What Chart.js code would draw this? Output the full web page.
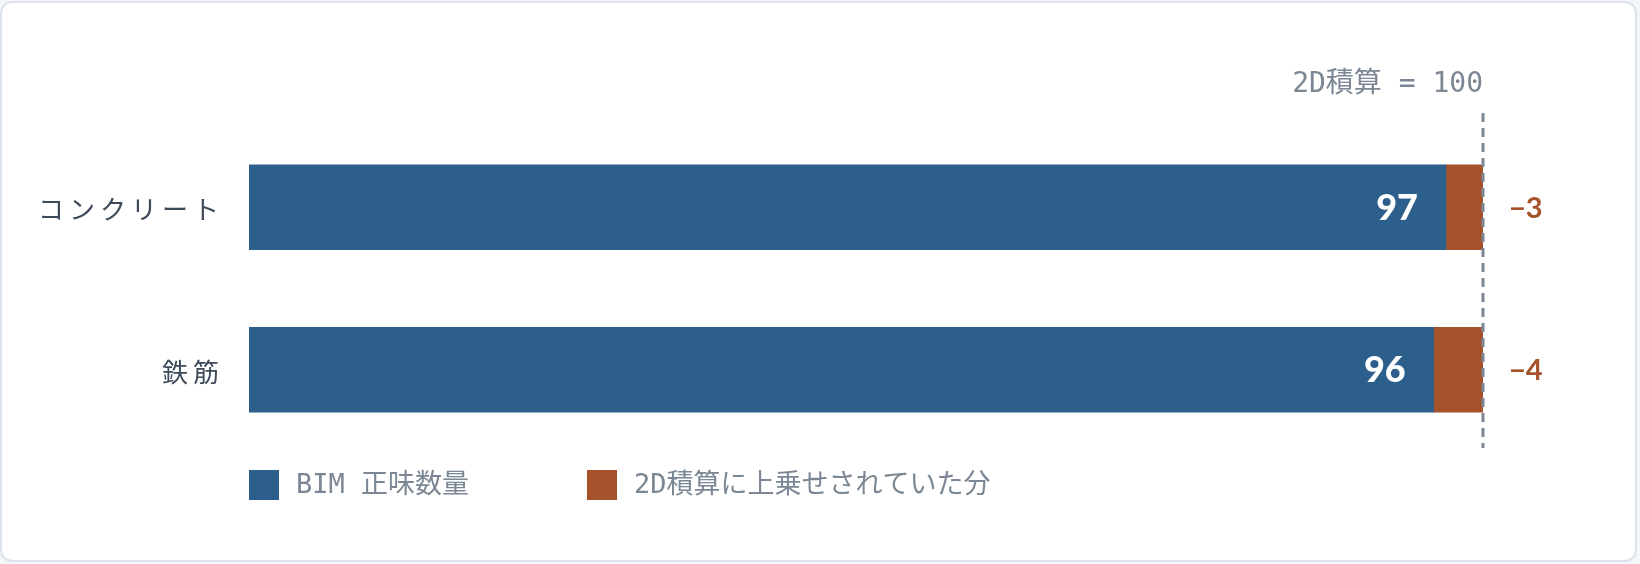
<!DOCTYPE html>
<html lang="ja">
<head>
<meta charset="utf-8">
<title>BIM 正味数量</title>
<script src="https://cdn.jsdelivr.net/npm/chart.js@4.4.1/dist/chart.umd.min.js"></script>
<style>
  html, body { margin: 0; padding: 0; background: #f4f6f9; }
  .card {
    position: absolute; left: 0; top: 1px;
    width: 1637px; height: 561px; box-sizing: border-box;
    border: 2px solid #dde3ea; border-radius: 12px; background: #fff;
  }
  #graphic { position: absolute; left: 0; top: 0; }
</style>
</head>
<body>
<div class="card"></div>
<canvas id="graphic" width="1640" height="564"></canvas>
<script>
const categories = ["コンクリート", "鉄筋"];
const bimValues = [97, 96];
const extraValues = [3, 4];
const seriesNames = ["BIM 正味数量", "2D積算に上乗せされていた分"];
const baseline = 100;
const baselineLabel = "2D積算 = 100";

const BLUE = "#2c5f8c";
const RUST = "#a6532b";
const GRAY = "#7b8794";
const MONO = "'DejaVu Sans Mono', 'Noto Sans CJK JP', monospace";

// labels, baseline and legend drawn on top of the bars
const overlay = {
  id: "overlay",
  afterDatasetsDraw(chart) {
    const { ctx, chartArea } = chart;
    const x = chart.scales.x;
    const y = chart.scales.y;
    const xBase = x.getPixelForValue(baseline);

    ctx.save();

    // category labels
    ctx.font = "26px 'Noto Sans CJK JP', 'Noto Sans', sans-serif";
    ctx.fillStyle = "#3d4a5a";
    ctx.textAlign = "right";
    ctx.textBaseline = "middle";
    ctx.letterSpacing = "5px";
    categories.forEach((c, i) => {
      ctx.fillText(c, chartArea.left - 25, y.getPixelForValue(i) + 2);
    });
    ctx.letterSpacing = "0px";

    // value in blue bar
    ctx.font = "900 36px Lato, sans-serif";
    ctx.fillStyle = "#fff";
    bimValues.forEach((v, i) => {
      ctx.fillText(String(v), x.getPixelForValue(v) - 28, y.getPixelForValue(i) + 1);
    });

    // extra amount next to baseline
    ctx.font = "bold 29px Lato, sans-serif";
    ctx.fillStyle = RUST;
    ctx.textAlign = "left";
    extraValues.forEach((v, i) => {
      ctx.fillText("\u2212" + v, xBase + 26, y.getPixelForValue(i) + 1);
    });

    // dashed baseline
    ctx.strokeStyle = GRAY;
    ctx.lineWidth = 3;
    ctx.setLineDash([9, 6]);
    ctx.beginPath();
    ctx.moveTo(xBase, chartArea.top - 13);
    ctx.lineTo(xBase, chartArea.bottom - 3);
    ctx.stroke();
    ctx.setLineDash([]);

    ctx.font = "28px " + MONO;
    ctx.fillStyle = GRAY;
    ctx.textAlign = "right";
    ctx.fillText(baselineLabel, xBase, 85);

    // legend
    ctx.font = "27px " + MONO;
    ctx.textAlign = "left";
    let lx = chartArea.left;
    const ly = 485;
    chart.data.datasets.forEach((ds) => {
      ctx.fillStyle = ds.backgroundColor;
      ctx.fillRect(lx, ly - 15, 30, 30);
      ctx.fillStyle = GRAY;
      ctx.fillText(ds.label, lx + 47, ly + 1);
      lx += 47 + ctx.measureText(ds.label).width + 118;
    });

    ctx.restore();
  },
};

new Chart(document.getElementById("graphic"), {
  type: "bar",
  data: {
    labels: categories,
    datasets: [
      { label: seriesNames[0], data: bimValues, backgroundColor: BLUE, borderWidth: 0 },
      { label: seriesNames[1], data: extraValues, backgroundColor: RUST, borderWidth: 0 },
    ],
  },
  options: {
    indexAxis: "y",
    responsive: false,
    animation: false,
    devicePixelRatio: 1,
    layout: { padding: { left: 249, right: 157, top: 126, bottom: 113 } },
    barThickness: 85,
    scales: {
      x: { stacked: true, min: 0, max: 100, display: false },
      y: { stacked: true, display: false },
    },
    plugins: {
      legend: { display: false },
      tooltip: { enabled: false },
    },
  },
  plugins: [overlay],
});
</script>
</body>
</html>
